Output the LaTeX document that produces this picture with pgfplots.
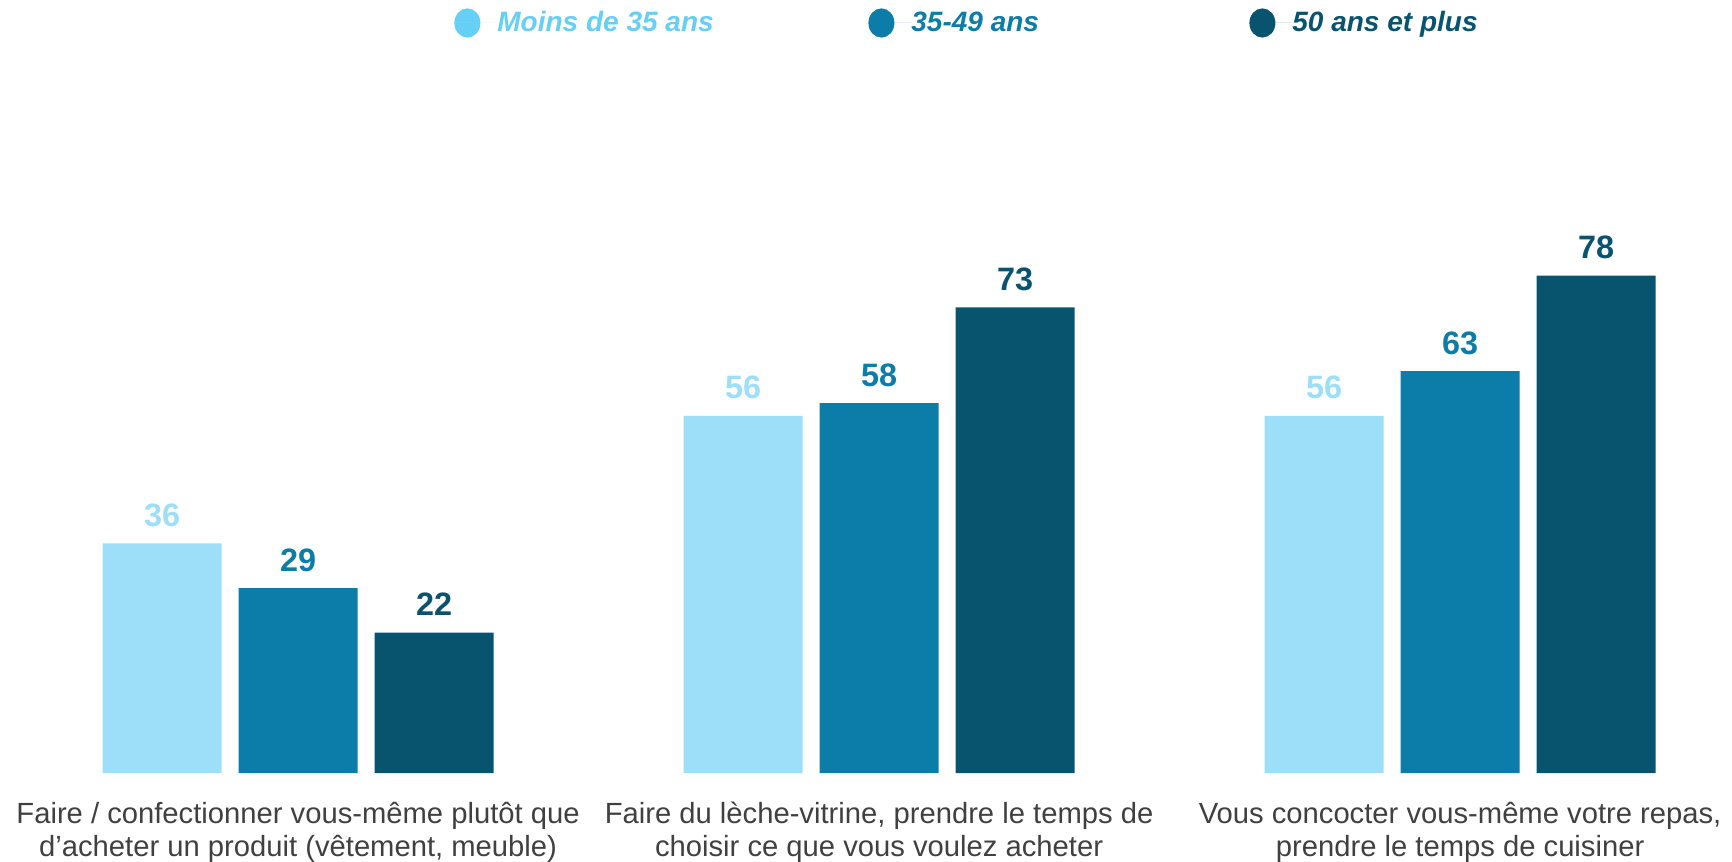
\documentclass[border=0pt]{standalone}
\usepackage{pgfplots}
\pgfplotsset{compat=1.18}
\usepackage{fontspec}
\setmainfont{Liberation Sans}
\definecolor{cLight}{HTML}{9DDFF8}
\definecolor{cMid}{HTML}{0C7CA8}
\definecolor{cDark}{HTML}{08546F}
\definecolor{legLight}{HTML}{66CFF5}
\definecolor{txtGray}{HTML}{404040}
\begin{document}
\begin{tikzpicture}
\useasboundingbox (0,0) rectangle (866pt,430.5pt);
\begin{axis}[
  at={(0pt,44pt)}, anchor=south west,
  scale only axis, width=866pt, height=386.5pt,
  xmin=-0.513, xmax=2.468, ymin=0, ymax=121.2,
  axis line style={draw=none}, tick style={draw=none},
  /pgf/number format/assume math mode=true,
  ytick=\empty,
  xtick={0,1,2},
  xticklabels={{Faire / confectionner vous-même plutôt que\\d’acheter un produit (vêtement, meuble)},
               {Faire du lèche-vitrine, prendre le temps de\\choisir ce que vous voulez acheter},
               {Vous concocter vous-même votre repas,\\prendre le temps de cuisiner}},
  xticklabel style={align=center, text=txtGray, font=\fontsize{14.6}{16.6}\selectfont, yshift=-6.6pt},
  ybar, bar width=59.5pt,
  nodes near coords,
  every node near coord/.append style={font=\bfseries\fontsize{16.2}{16.2}\selectfont, anchor=base, yshift=8.5pt, inner sep=0pt},
  legend columns=3,
  legend style={draw=none, fill=none, inner sep=0pt, column sep=0pt,
    nodes={inner sep=0pt, anchor=west, font=\bfseries\itshape\fontsize{14}{14}\selectfont},
    at={(axis description cs:0,1)}, anchor=west, xshift=227pt, yshift=-11.5pt},
]
\addplot[fill=cLight, draw=none, bar shift=-68pt,
  every node near coord/.append style={text=cLight},
  legend image code/.code={\fill[legLight] (6.5pt,0pt) ellipse [x radius=6.5pt, y radius=7.3pt]; \path (0pt,0pt) -- (21.5pt,0pt);}]
  coordinates {(0,36) (1,56) (2,56)};
\addlegendentry{\makebox[185.5pt][l]{\textcolor{legLight}{Moins de 35 ans}}}
\addplot[fill=cMid, draw=none, bar shift=0pt,
  every node near coord/.append style={text=cMid},
  legend image code/.code={\fill[cMid] (6.5pt,0pt) ellipse [x radius=6.5pt, y radius=7.3pt]; \path (0pt,0pt) -- (21.5pt,0pt);}]
  coordinates {(0,29) (1,58) (2,63)};
\addlegendentry{\makebox[169pt][l]{\textcolor{cMid}{35-49 ans}}}
\addplot[fill=cDark, draw=none, bar shift=68pt,
  every node near coord/.append style={text=cDark},
  legend image code/.code={\fill[cDark] (6.5pt,0pt) ellipse [x radius=6.5pt, y radius=7.3pt]; \path (0pt,0pt) -- (21.5pt,0pt);}]
  coordinates {(0,22) (1,73) (2,78)};
\addlegendentry{\textcolor{cDark}{50 ans et plus}}
\end{axis}
\end{tikzpicture}
\end{document}
